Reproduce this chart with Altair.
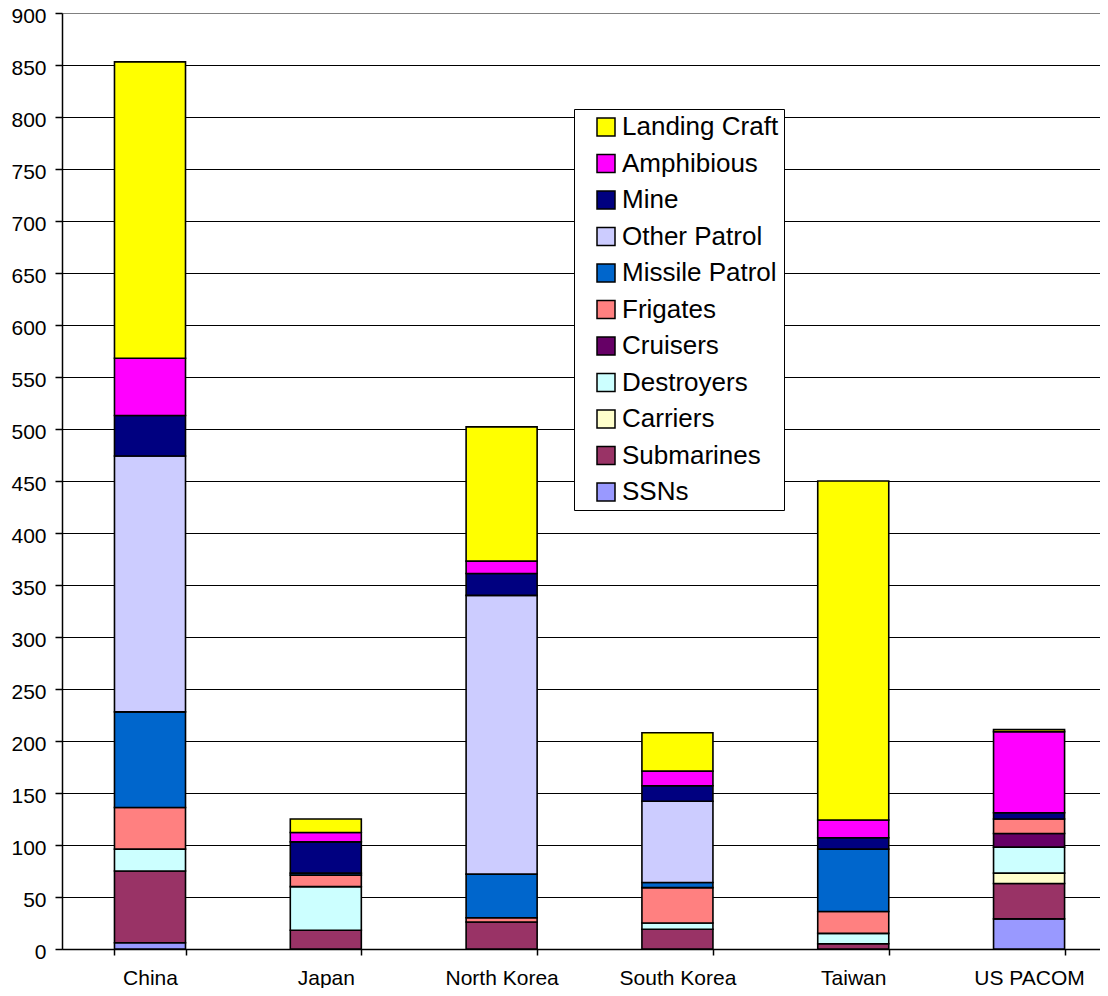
import altair as alt
import pandas as pd

countries = ["China", "Japan", "North Korea", "South Korea", "Taiwan", "US PACOM"]

# stacking order: bottom to top
series_stack = ["SSNs", "Submarines", "Carriers", "Destroyers", "Cruisers", "Frigates",
                "Missile Patrol", "Other Patrol", "Mine", "Amphibious", "Landing Craft"]

ssns           = [6, 0, 0, 0, 0, 29]
submarines     = [69, 18, 26, 19, 5, 34]
carriers       = [0, 0, 0, 0, 0, 10]
destroyers     = [21, 42, 0, 6, 10, 25]
cruisers       = [0, 0, 0, 0, 0, 13]
frigates       = [40, 11, 4, 34, 21, 14]
missile_patrol = [92, 2, 42, 5, 60, 0]
other_patrol   = [246, 0, 268, 78, 0, 0]
mine           = [39, 30, 21, 15, 11, 6]
amphibious     = [55, 9, 12, 14, 17, 78]
landing_craft  = [285, 13, 129, 37, 326, 2]

series_values = [ssns, submarines, carriers, destroyers, cruisers, frigates,
                 missile_patrol, other_patrol, mine, amphibious, landing_craft]

colors = {
    "Landing Craft": "#FFFF00",
    "Amphibious": "#FF00FF",
    "Mine": "#000080",
    "Other Patrol": "#CCCCFF",
    "Missile Patrol": "#0066CC",
    "Frigates": "#FF8080",
    "Cruisers": "#660066",
    "Destroyers": "#CCFFFF",
    "Carriers": "#FFFFCC",
    "Submarines": "#993366",
    "SSNs": "#9999FF",
}

y_ticks = list(range(0, 901, 50))

rows = []
for i, (name, vals) in enumerate(zip(series_stack, series_values)):
    for c, v in zip(countries, vals):
        rows.append({"country": c, "type": name, "ships": v, "order": i})
df = pd.DataFrame(rows)

legend_order = list(reversed(series_stack))

font = "Liberation Sans"

chart = alt.Chart(df).transform_filter(
    alt.datum.ships > 0
).mark_bar(stroke="black", strokeWidth=1.6).encode(
    x=alt.X("country:N", sort=countries, title=None,
            scale=alt.Scale(paddingInner=0.596, paddingOuter=0.25, align=0.597),
            axis=alt.Axis(labelAngle=0, labelFont=font, labelFontSize=21, labelColor="black",
                          domainColor="black", domainWidth=1.5, tickColor="black",
                          tickWidth=1.5, tickSize=6, tickBand="extent", labelPadding=12,
                          grid=False)),
    y=alt.Y("ships:Q", stack="zero", title=None,
            scale=alt.Scale(domain=[0, 900], nice=False),
            axis=alt.Axis(values=y_ticks, labelFont=font, labelFontSize=21, labelColor="black",
                          domainColor="black", domainWidth=1.5, tickColor="black",
                          tickWidth=1.5, tickSize=7, labelPadding=9, labelOffset=3.5,
                          grid=True,
                          gridColor={"condition": {"test": "datum.value == 900", "value": "#808080"},
                                     "value": "black"},
                          gridWidth=1.2)),
    color=alt.Color("type:N",
                    scale=alt.Scale(domain=legend_order, range=[colors[t] for t in legend_order]),
                    legend=alt.Legend(title=None, orient="none", legendX=512, legendY=96,
                                      fillColor="white", strokeColor="black",
                                      padding=5, rowPadding=10.5, symbolType="square",
                                      symbolSize=324, symbolStrokeColor="black",
                                      symbolStrokeWidth=1.5, symbolOffset=14, symbolOpacity=1,
                                      labelFont=font, labelFontSize=26, labelColor="black",
                                      labelOffset=3, labelLimit=400,
                                      labelExpr="datum.label + '\u00a0\u00a0'")),
    order=alt.Order("order:Q", sort="ascending"),
).properties(
    width=1038, height=936,
    autosize=alt.AutoSizeParams(type="none"),
    padding={"left": 54, "top": 5, "right": 0, "bottom": 39},
).configure_view(
    fill="#C0C0C0", stroke="#808080", strokeWidth=1
).configure_legend(
    strokeWidth=1.5
).configure(background="white")

chart.save("out.html", embed_options={"renderer": "svg", "actions": False})
